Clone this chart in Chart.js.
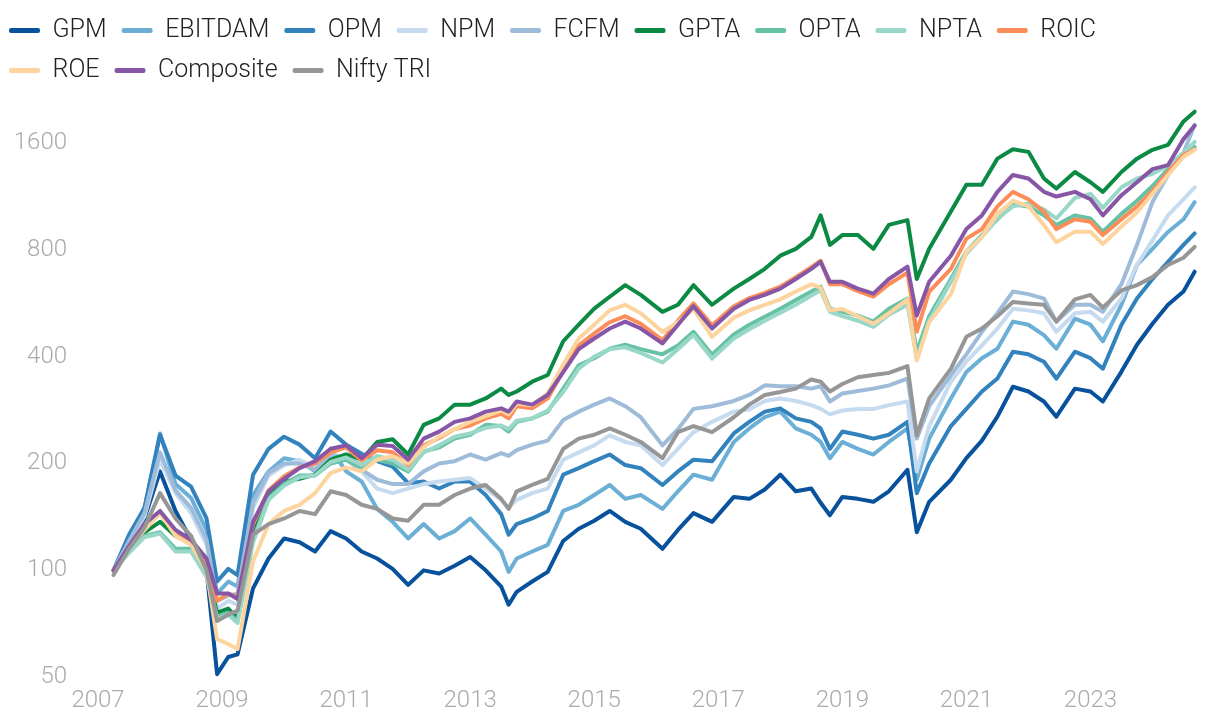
<!DOCTYPE html>
<html>
<head>
<meta charset="utf-8">
<script src="https://cdn.jsdelivr.net/npm/chart.js@4.4.1/dist/chart.umd.min.js"></script>
<style>
html, body { margin: 0; padding: 0; background: #ffffff; }
#wrap { width: 1220px; height: 728px; }
</style>
</head>
<body>
<div id="wrap"><canvas id="c" width="1220" height="728"></canvas></div>
<script>
// ---- data (index = 100 at start, log scale) ----
const dates = [
  2007.25, 2007.5, 2007.75, 2008.0, 2008.25, 2008.5, 2008.75, 2008.92, 2009.1, 2009.25,
  2009.5, 2009.75, 2010.0, 2010.25, 2010.5, 2010.75, 2011.0, 2011.25, 2011.5, 2011.75,
  2012.0, 2012.25, 2012.5, 2012.75, 2013.0, 2013.25, 2013.5, 2013.62, 2013.75, 2014.0,
  2014.25, 2014.5, 2014.75, 2015.0, 2015.25, 2015.5, 2015.75, 2016.1, 2016.35, 2016.6,
  2016.9, 2017.25, 2017.5, 2017.75, 2018.0, 2018.25, 2018.5, 2018.65, 2018.8, 2019.0,
  2019.25, 2019.5, 2019.75, 2020.05, 2020.2, 2020.4, 2020.75, 2021.0, 2021.25, 2021.5,
  2021.75, 2022.0, 2022.25, 2022.45, 2022.75, 2023.0, 2023.2, 2023.5, 2023.75, 2024.0,
  2024.25, 2024.5, 2024.68
];

const gpm = [
  100, 122, 140, 190, 147, 122, 100, 51, 57, 58,
  89, 108, 123, 120, 113, 129, 123, 113, 108, 101,
  91, 100, 98, 103, 109, 100, 90, 80, 87, 93,
  99, 121, 131, 138, 147, 137, 131, 115, 130, 145,
  137, 161, 159, 169, 186, 167, 170, 155, 143, 161,
  159, 156, 167, 192, 128, 156, 180, 207, 232, 271,
  329, 319, 299, 271, 325, 319, 299, 363, 432, 495,
  560, 610, 694
];
const ebitdam = [
  100, 122, 150, 243, 175, 160, 130, 86, 93, 90,
  163, 190, 207, 203, 190, 220, 190, 178, 149, 137,
  123, 135, 123, 129, 140, 126, 113, 99, 108, 113,
  118, 147, 153, 163, 174, 159, 163, 149, 167, 186,
  180, 230, 251, 270, 280, 251, 241, 230, 207, 230,
  220, 212, 230, 251, 180, 235, 305, 362, 396, 421,
  502, 492, 460, 421, 512, 492, 442, 560, 725, 805,
  898, 975, 1090
];
const opm = [
  100, 126, 150, 241, 185, 172, 140, 93, 101, 97,
  186, 220, 238, 226, 207, 246, 226, 213, 203, 196,
  176, 178, 170, 178, 178, 163, 144, 126, 135, 140,
  147, 186, 194, 203, 212, 198, 194, 174, 190, 205,
  203, 243, 262, 280, 286, 268, 262, 251, 220, 246,
  241, 235, 241, 262, 165, 200, 255, 285, 319, 347,
  413, 406, 387, 347, 413, 396, 370, 492, 583, 662,
  740, 826, 890
];
const npm = [
  100, 120, 142, 205, 165, 145, 118, 78, 82, 80,
  150, 185, 198, 205, 195, 215, 205, 190, 170, 165,
  170, 175, 178, 180, 182, 170, 158, 150, 158, 165,
  170, 205, 215, 225, 240, 230, 225, 198, 220, 245,
  262, 280, 284, 300, 305, 300, 292, 285, 275, 282,
  285, 285, 292, 299, 190, 255, 340, 387, 430, 480,
  546, 540, 530, 470, 530, 535, 502, 583, 725, 850,
  1000, 1110, 1200
];
const fcfm = [
  100, 121, 145, 215, 168, 150, 122, 82, 85, 86,
  155, 188, 200, 200, 192, 212, 205, 192, 180, 175,
  175, 190, 200, 203, 212, 205, 214, 210, 218, 226,
  232, 265, 280, 293, 305, 290, 270, 225, 250, 285,
  290, 300, 312, 332, 330, 330, 325, 330, 299, 315,
  320, 325, 332, 347, 235, 290, 355, 406, 470, 530,
  610, 600, 583, 502, 560, 560, 535, 640, 826, 1090,
  1300, 1500, 1800
];
const gpta = [
  100, 115, 128, 137, 125, 120, 100, 76, 78, 73,
  126, 163, 178, 181, 186, 205, 212, 205, 230, 234,
  212, 257, 268, 293, 293, 305, 325, 312, 319, 340,
  355, 442, 492, 546, 590, 636, 597, 535, 560, 636,
  560, 622, 662, 707, 770, 805, 870, 1000, 826, 880,
  880, 805, 940, 970, 662, 805, 1025, 1220, 1220, 1445,
  1535, 1510, 1270, 1190, 1325, 1240, 1165, 1325, 1445, 1530,
  1580, 1840, 1960
];
const opta = [
  100, 113, 125, 128, 115, 115, 97, 74, 76, 72,
  122, 160, 175, 185, 185, 200, 205, 195, 205, 200,
  190, 216, 222, 235, 241, 257, 255, 246, 262, 268,
  280, 325, 378, 396, 421, 432, 420, 406, 430, 470,
  405, 462, 492, 518, 546, 578, 610, 630, 546, 535,
  522, 502, 546, 583, 413, 520, 662, 790, 880, 975,
  1075, 1060, 1000, 940, 1000, 980, 900, 1010, 1100, 1210,
  1350, 1480, 1560
];
const npta = [
  100, 112, 124, 127, 113, 113, 96, 73, 75, 71,
  120, 158, 173, 183, 185, 202, 208, 198, 210, 205,
  192, 215, 225, 238, 243, 252, 256, 250, 264, 268,
  282, 318, 370, 400, 420, 425, 410, 385, 420, 460,
  395, 450, 478, 505, 532, 560, 595, 615, 535, 520,
  505, 485, 525, 560, 395, 505, 650, 780, 870, 980,
  1060, 1080, 1040, 980, 1120, 1150, 1050, 1200, 1270, 1310,
  1380, 1500, 1610
];
const roic = [
  100, 116, 133, 145, 128, 120, 105, 82, 86, 84,
  135, 168, 184, 195, 200, 215, 222, 204, 218, 215,
  198, 225, 236, 250, 256, 268, 276, 268, 290, 286,
  305, 365, 430, 465, 500, 520, 495, 445, 505, 565,
  490, 555, 585, 605, 630, 670, 715, 745, 640, 640,
  612, 590, 640, 690, 470, 610, 707, 860, 915, 1060,
  1165, 1110, 1025, 915, 975, 960, 880, 975, 1060, 1170,
  1325, 1480, 1535
];
const roe = [
  100, 116, 130, 145, 125, 118, 100, 64, 62, 60,
  106, 135, 147, 153, 165, 188, 195, 190, 205, 210,
  200, 222, 238, 250, 262, 272, 282, 275, 295, 292,
  315, 380, 450, 492, 540, 560, 530, 470, 500, 545,
  455, 515, 540, 560, 580, 610, 640, 625, 540, 545,
  520, 495, 530, 580, 390, 500, 600, 790, 870, 1010,
  1100, 1060, 940, 840, 900, 900, 830, 930, 1020, 1150,
  1300, 1460, 1530
];
const composite = [
  100, 117, 135, 147, 130, 122, 108, 86, 86, 83,
  137, 167, 181, 194, 203, 220, 225, 207, 226, 224,
  205, 235, 246, 262, 268, 280, 286, 280, 299, 293,
  312, 362, 420, 450, 480, 502, 480, 436, 492, 555,
  480, 546, 578, 597, 622, 662, 707, 740, 650, 650,
  622, 602, 662, 717, 522, 650, 770, 915, 1000, 1165,
  1300, 1270, 1165, 1130, 1165, 1110, 1000, 1140, 1240, 1350,
  1385, 1640, 1790
];
const niftyTri = [
  97, 115, 132, 165, 140, 125, 100, 72, 75, 77,
  126, 135, 140, 147, 144, 167, 163, 153, 149, 140,
  138, 153, 153, 163, 170, 174, 159, 149, 167, 174,
  181, 220, 235, 241, 251, 241, 230, 207, 245, 255,
  245, 270, 293, 312, 318, 325, 345, 340, 319, 335,
  350, 355, 360, 376, 240, 305, 370, 455, 480, 520,
  570, 565, 560, 502, 580, 597, 550, 615, 636, 670,
  725, 760, 815
];

const seriesNames = ['GPM', 'EBITDAM', 'OPM', 'NPM', 'FCFM', 'GPTA', 'OPTA', 'NPTA', 'ROIC', 'ROE', 'Composite', 'Nifty TRI'];
const xTickYears = [2007, 2009, 2011, 2013, 2015, 2017, 2019, 2021, 2023];
const yTickValues = [50, 100, 200, 400, 800, 1600];

// ---- styles ----
const seriesColors = ['#08519c', '#6baed6', '#3182bd', '#c6dbef', '#9ebcda', '#0b8a43',
                      '#66c2a4', '#99d8c9', '#fc8d59', '#fdd49e', '#8856a7', '#969696'];

const allSeries = [gpm, ebitdam, opm, npm, fcfm, gpta, opta, npta, roic, roe, composite, niftyTri];

const datasets = allSeries.map((vals, i) => ({
  label: seriesNames[i],
  data: dates.map((d, j) => ({ x: d, y: vals[j] })),
  borderColor: seriesColors[i],
  backgroundColor: seriesColors[i],
  borderWidth: 4,
  pointRadius: 0,
  pointHoverRadius: 0,
  tension: 0,
  borderJoinStyle: 'round',
  borderCapStyle: 'round',
  order: allSeries.length - 1 - i
}));

const tickFont = { family: 'Roboto', size: 24, weight: '300' };

new Chart(document.getElementById('c'), {
  type: 'line',
  data: { datasets },
  options: {
    responsive: false,
    animation: false,
    devicePixelRatio: 1,
    layout: { padding: { left: -6, right: 21, top: 3, bottom: 4 } },
    plugins: {
      tooltip: { enabled: false },
      legend: {
        position: 'top',
        align: 'start',
        labels: {
          boxWidth: 31,
          boxHeight: 5,
          padding: 15,
          color: '#222222',
          font: { family: 'Roboto', size: 25, weight: '300' },
          useBorderRadius: true,
          borderRadius: 2,
          sort: (a, b) => a.datasetIndex - b.datasetIndex,
          generateLabels: (chart) =>
            Chart.defaults.plugins.legend.labels.generateLabels(chart).map(l => ({ ...l, lineWidth: 0 }))
        }
      }
    },
    scales: {
      x: {
        type: 'linear',
        min: 2007,
        max: 2024.75,
        grid: { display: false, drawTicks: false },
        border: { display: false },
        ticks: {
          padding: 9,
          color: '#aaaaaa',
          font: tickFont,
          autoSkip: false,
          maxRotation: 0,
          callback: (v) => String(v)
        },
        afterBuildTicks: (s) => { s.ticks = xTickYears.map(v => ({ value: v })); }
      },
      y: {
        type: 'logarithmic',
        min: 50,
        max: 2212,
        grid: { display: false, drawTicks: false },
        border: { display: false },
        ticks: {
          padding: 31,
          color: '#aaaaaa',
          font: tickFont,
          callback: (v) => String(v)
        },
        afterBuildTicks: (s) => { s.ticks = yTickValues.map(v => ({ value: v })); },
        afterFit: (s) => { s.width = 104; }
      }
    }
  }
});
</script>
</body>
</html>
